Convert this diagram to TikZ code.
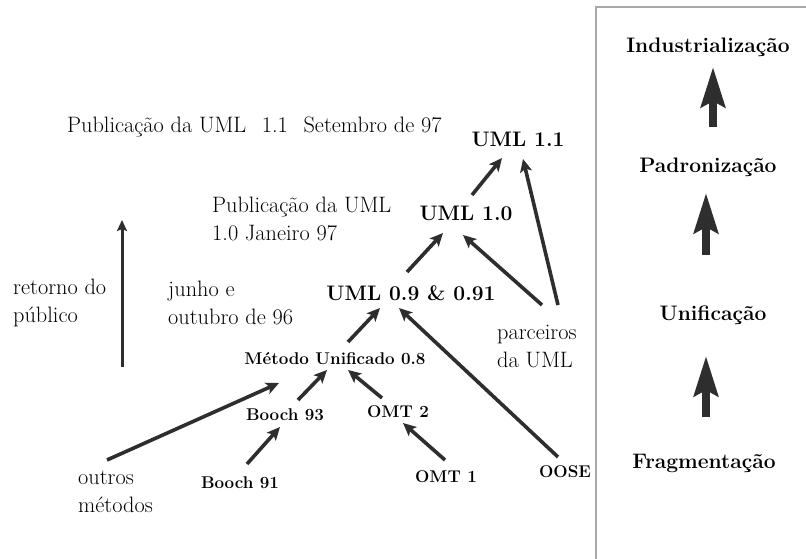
\documentclass[tikz,border=0pt]{standalone}
\usepackage{fontspec}
\usetikzlibrary{arrows.meta}
\definecolor{arrcol}{HTML}{2E2E2E}
\definecolor{boxcol}{HTML}{A8A8A8}
\begin{document}
\begin{tikzpicture}[x=1pt,y=-1pt,
  reg/.style={inner sep=0pt,anchor=west,align=left,font=\fontsize{22.3}{28}\selectfont},
  big/.style={inner sep=0pt,font=\fontsize{21}{24}\selectfont\bfseries},
  small/.style={inner sep=0pt,font=\fontsize{17}{20}\selectfont\bfseries},
  stage/.style={inner sep=0pt,font=\fontsize{21}{24}\selectfont\bfseries},
  arr/.style={draw=arrcol,line width=3.6pt,-{Stealth[length=13pt,width=12pt,inset=3pt]}},
  thin/.style={draw=arrcol,line width=3pt,-{Stealth[length=11pt,width=10pt,inset=2pt]}},
  block/.style={draw=arrcol,line width=8pt,-{Stealth[length=40pt,width=24pt,inset=6pt]}}]
\useasboundingbox (0,0) rectangle (806,559);
\fill[white] (0,0) rectangle (806,559);
\begin{scope}
\clip (0,0) rectangle (806,559);
\draw[boxcol,line width=2pt] (820,7) -- (596,7) -- (596,570);
\end{scope}

% text labels
\node[reg] (pub11) at (67,127) {Publicação da UML\hspace{0.7em}1.1\hspace{0.7em}Setembro de 97};
\node[reg] (pub10) at (212,219) {Publicação da UML\\1.0 Janeiro 97};
\node[reg] (ret) at (13,303) {retorno do\\público};
\node[reg] (jun) at (168,303) {junho e\\outubro de 96};
\node[reg] (outros) at (78,492) {outros\\métodos};
\node[reg] (parc) at (497,346) {parceiros\\da UML};

% method nodes
\node[big] (u11) at (518,139) {UML 1.1};
\node[big] (u10) at (466,213) {UML 1.0};
\node[big] (u09) at (411,293) {UML 0.9 \& 0.91};
\node[small] (meth) at (335,359) {Método Unificado 0.8};
\node[small] (b93) at (285,415) {Booch 93};
\node[small] (omt2) at (398,412) {OMT 2};
\node[small] (b91) at (240,483) {Booch 91};
\node[small] (omt1) at (446,477) {OMT 1};
\node[small] (oose) at (565,472) {OOSE};

% connectors
\draw[arr] ([shift={(29,-32)}]outros.west) -- ([shift={(-56,24)}]meth.center);
\draw[arr] ([shift={(13,-15)}]b93.center) -- ([shift={(-8,11)}]meth.center);
\draw[arr] ([shift={(7,-19)}]b91.center) -- ([shift={(-5,12)}]b93.center);
\draw[arr] ([shift={(-16,-14)}]omt2.center) -- ([shift={(13,11)}]meth.center);
\draw[arr] ([shift={(-1,-17)}]omt1.center) -- ([shift={(5,11)}]omt2.center);
\draw[arr] ([shift={(-7,-15)}]oose.center) -- ([shift={(-12,15)}]u09.center);
\draw[arr] ([shift={(13,-17)}]meth.center) -- ([shift={(-31,15)}]u09.center);
\draw[arr] ([shift={(-4,-21)}]u09.center) -- ([shift={(-23,20)}]u10.center);
\draw[arr] ([shift={(45,-41)}]parc.west) -- ([shift={(-3,22)}]u10.center);
\draw[arr] ([shift={(61,-41)}]parc.west) -- ([shift={(5,20)}]u11.center);
\draw[arr] ([shift={(6,-18)}]u10.center) -- ([shift={(-16,19)}]u11.center);

% feedback arrow
\coordinate (r0) at (122,367);
\coordinate (r1) at (122,220);
\draw[thin] (r0) -- (r1);

% right panel
\node[stage] (ind) at (708,47) {Industrialização};
\node[stage] (pad) at (708,167) {Padronização};
\node[stage] (uni) at (713,315) {Unificação};
\node[stage] (frag) at (704,463) {Fragmentação};
\draw[block] ([shift={(5,-40)}]pad.center) -- ([shift={(5,20)}]ind.center);
\draw[block] ([shift={(-7,-60)}]uni.center) -- ([shift={(-2,26)}]pad.center);
\draw[block] ([shift={(2,-46)}]frag.center) -- ([shift={(-7,41)}]uni.center);
\end{tikzpicture}
\end{document}
